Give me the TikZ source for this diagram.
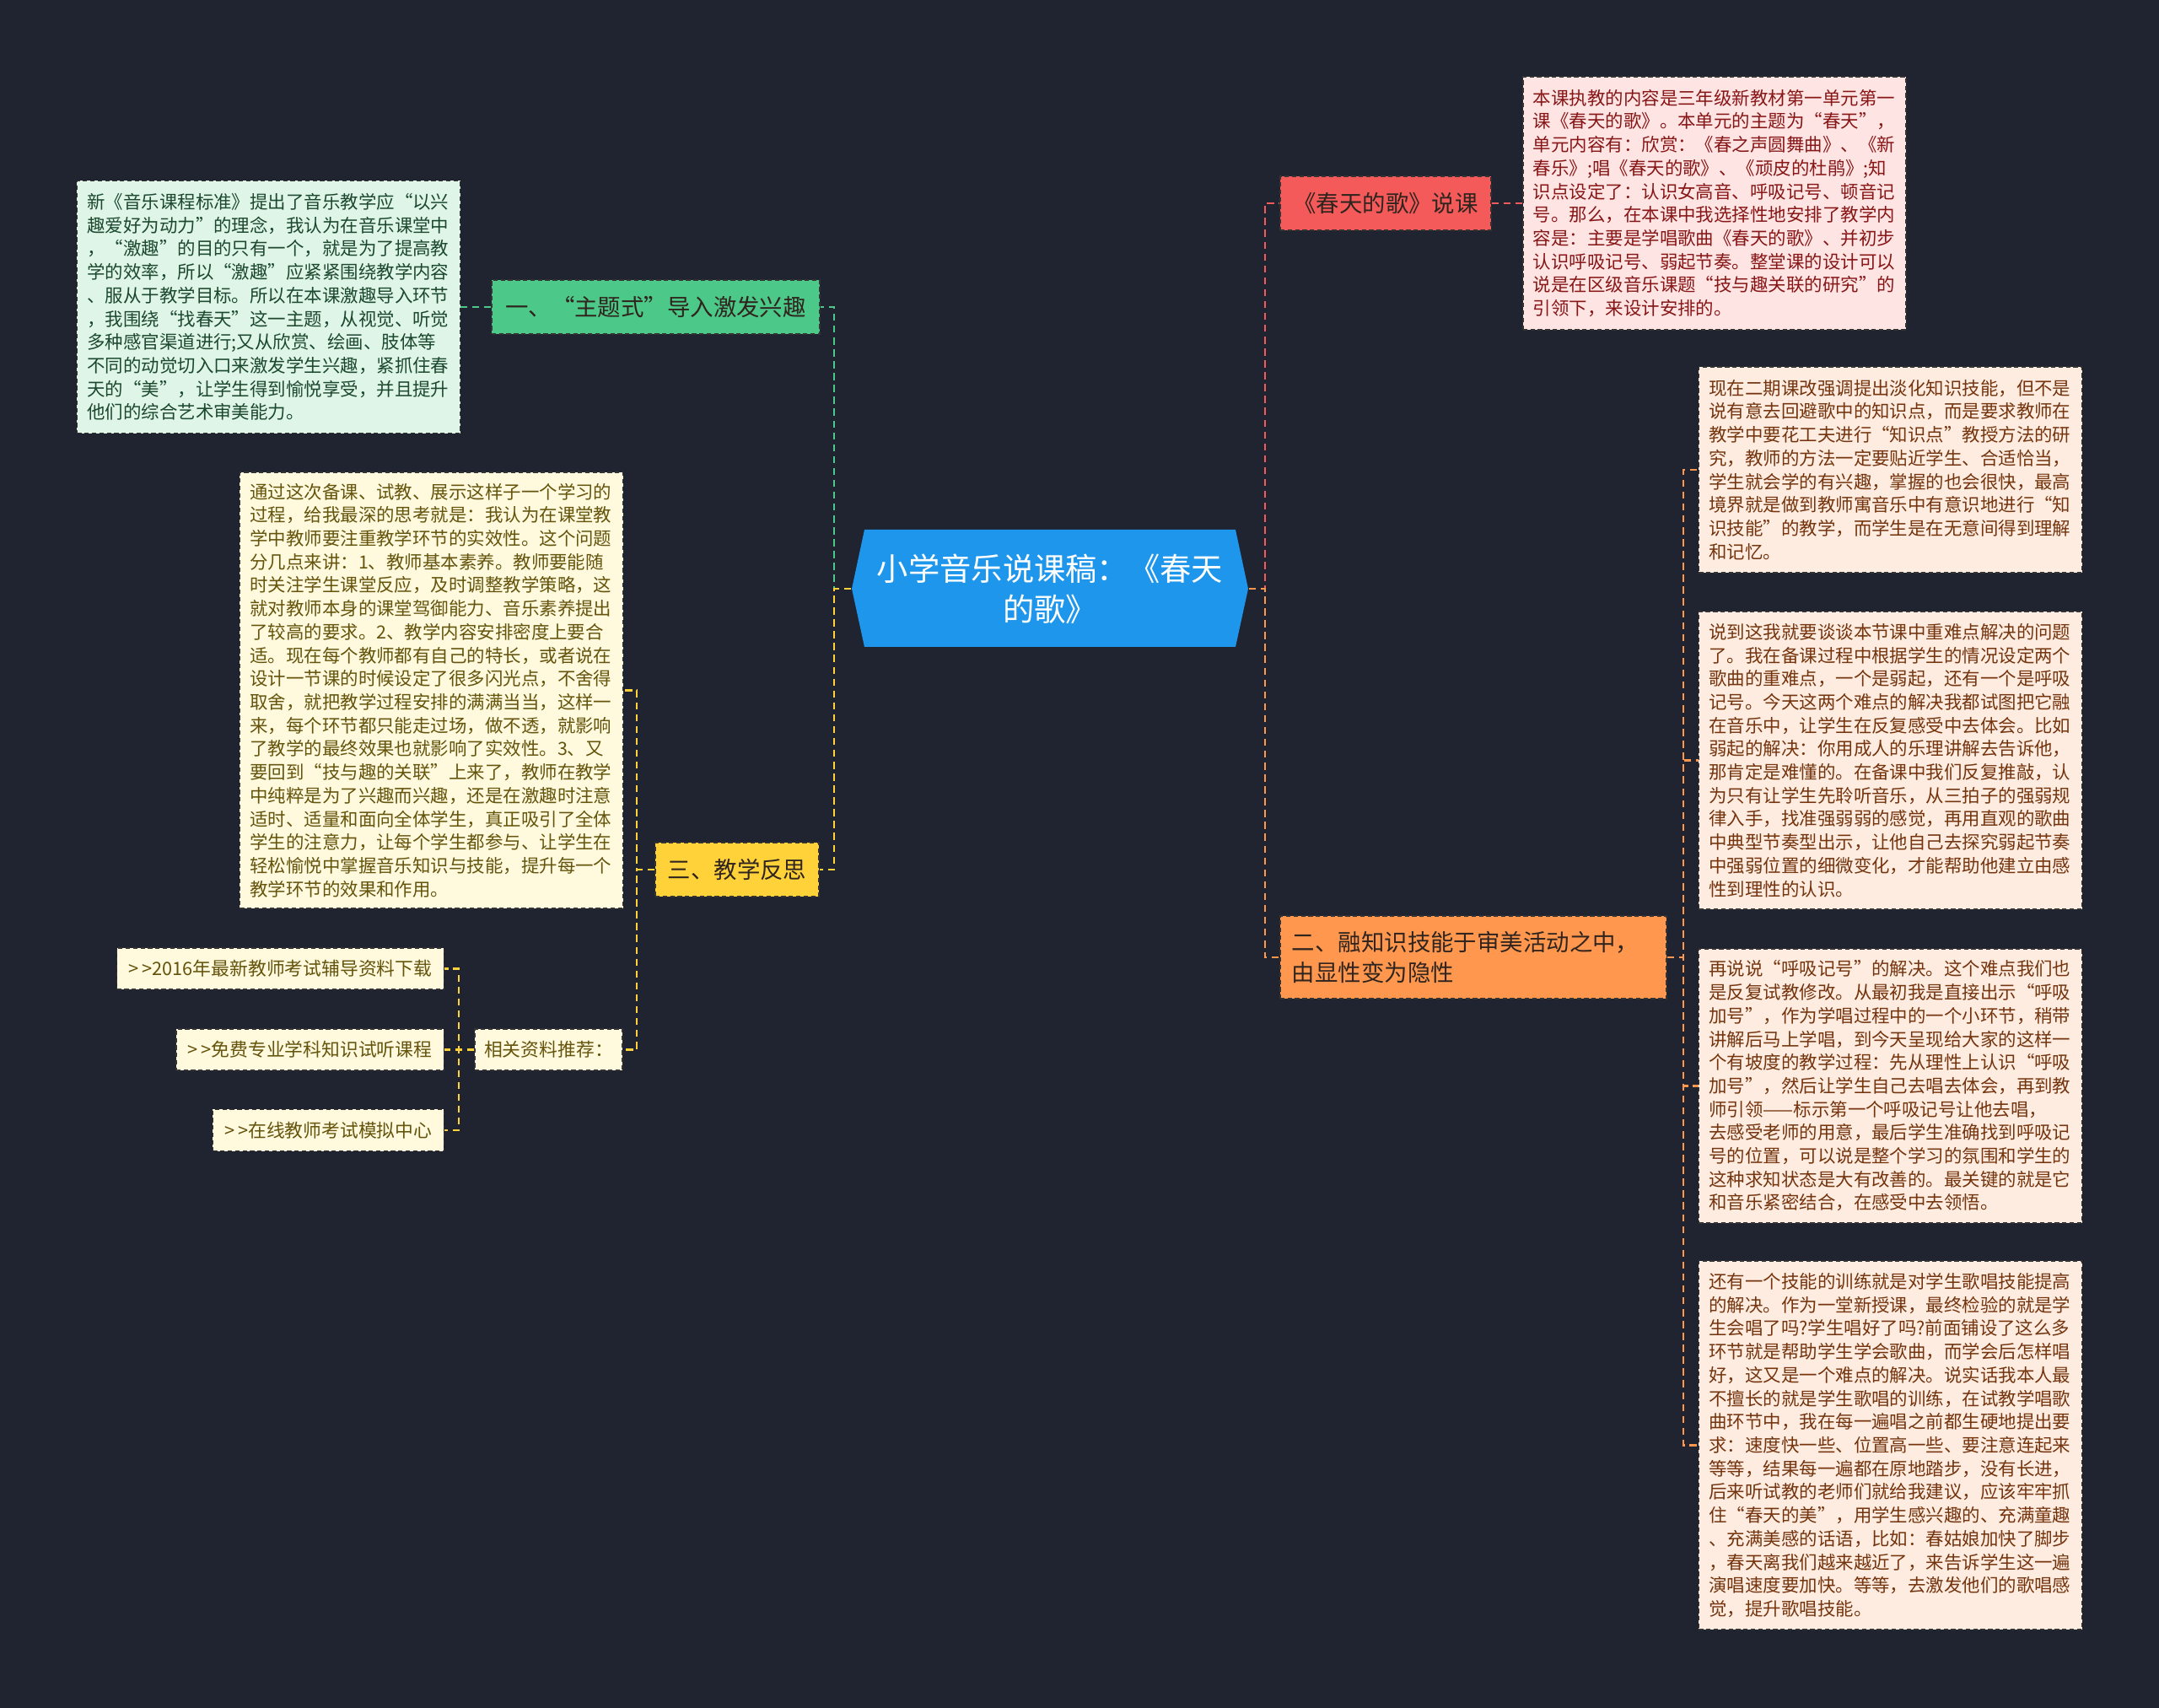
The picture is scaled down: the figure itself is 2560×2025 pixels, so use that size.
\documentclass[tikz,border=0pt]{standalone}
\usepackage{fontspec}
\setmainfont{Noto Sans CJK SC}

\definecolor{bgdark}{RGB}{32,35,48}
\definecolor{rootblue}{RGB}{30,150,235}
\definecolor{topicred}{RGB}{244,90,90}
\definecolor{topicorange}{RGB}{255,152,78}
\definecolor{topicgreen}{RGB}{76,200,136}
\definecolor{topicyellow}{RGB}{255,210,58}
\definecolor{notepink}{RGB}{255,228,228}
\definecolor{notepeach}{RGB}{255,236,224}
\definecolor{notemint}{RGB}{222,245,232}
\definecolor{notecream}{RGB}{255,249,222}
\definecolor{textpink}{RGB}{135,22,22}
\definecolor{textpeach}{RGB}{115,52,14}
\definecolor{textmint}{RGB}{28,72,46}
\definecolor{textcream}{RGB}{100,84,12}
\definecolor{texttopic}{RGB}{48,36,30}

\newcommand\notesize{\fontsize{6.1pt}{7.88pt}\selectfont}
\newcommand\topicsize{\fontsize{7.8pt}{10.2pt}\selectfont}
\newcommand\linksize{\fontsize{6.2pt}{7.5pt}\selectfont}
\newcommand\rootsize{\fontsize{10.6pt}{13.7pt}\selectfont}

\begin{document}
\begin{tikzpicture}[x=0.01cm,y=-0.01cm,
    card/.style={draw=black!80,line width=0.4pt,dash pattern=on 1.5pt off 1pt,inner sep=0pt},
    notebox/.style={card,align=left,text width=4.3cm,minimum width=4.54cm,font=\notesize},
    topic/.style={card,font=\topicsize,text=texttopic,minimum height=0.64cm},
    linkbox/.style={card,fill=notecream,text=textcream,font=\linksize,minimum height=0.49cm,inner xsep=0.14cm,anchor=east},
    conn/.style={line width=0.6pt,dash pattern=on 2.4pt off 1.6pt}]
    \fill[bgdark] (0,0) rectangle (2560,2025);
    \useasboundingbox (0,0) rectangle (2560,2025);

    % centre
    \fill[rootblue] (1010,698) -- (1025,628) -- (1465,628) -- (1480,698) -- (1465,767) -- (1025,767) -- cycle;
    \node[font=\rootsize,text=white,align=center,minimum width=4.7cm,minimum height=1.39cm,inner sep=0pt] (root) at (1245,698) {小学音乐说课稿：《春天\\的歌》};

    % right branches
    \node[topic,fill=topicred,minimum width=2.5cm] (b1) at (1643,241) {《春天的歌》说课};
    \node[topic,fill=topicorange,minimum width=4.58cm,minimum height=0.98cm,text width=4.3cm,align=left] (b2) at (1747,1135) {二、融知识技能于审美活动之中，\\由显性变为隐性};

    \node[notebox,fill=notepink,text=textpink,minimum height=3cm] (n1) at (2033,241) {本课执教的内容是三年级新教材第一单元第一\\课《春天的歌》。本单元的主题为“春天”，\\单元内容有：欣赏：《春之声圆舞曲》、《新\\春乐》;唱《春天的歌》、《顽皮的杜鹃》;知\\识点设定了：认识女高音、呼吸记号、顿音记\\号。那么，在本课中我选择性地安排了教学内\\容是：主要是学唱歌曲《春天的歌》、并初步\\认识呼吸记号、弱起节奏。整堂课的设计可以\\说是在区级音乐课题“技与趣关联的研究”的\\引领下，来设计安排的。};

    \node[notebox,fill=notepeach,text=textpeach,minimum height=2.44cm] (r1) at (2241.5,557) {现在二期课改强调提出淡化知识技能，但不是\\说有意去回避歌中的知识点，而是要求教师在\\教学中要花工夫进行“知识点”教授方法的研\\究，教师的方法一定要贴近学生、合适恰当，\\学生就会学的有兴趣，掌握的也会很快，最高\\境界就是做到教师寓音乐中有意识地进行“知\\识技能”的教学，而学生是在无意间得到理解\\和记忆。};
    \node[notebox,fill=notepeach,text=textpeach,minimum height=3.53cm] (r2) at (2241.5,901.5) {说到这我就要谈谈本节课中重难点解决的问题\\了。我在备课过程中根据学生的情况设定两个\\歌曲的重难点，一个是弱起，还有一个是呼吸\\记号。今天这两个难点的解决我都试图把它融\\在音乐中，让学生在反复感受中去体会。比如\\弱起的解决：你用成人的乐理讲解去告诉他，\\那肯定是难懂的。在备课中我们反复推敲，认\\为只有让学生先聆听音乐，从三拍子的强弱规\\律入手，找准强弱弱的感觉，再用直观的歌曲\\中典型节奏型出示，让他自己去探究弱起节奏\\中强弱位置的细微变化，才能帮助他建立由感\\性到理性的认识。};
    \node[notebox,fill=notepeach,text=textpeach,minimum height=3.25cm] (r3) at (2241.5,1287.5) {再说说“呼吸记号”的解决。这个难点我们也\\是反复试教修改。从最初我是直接出示“呼吸\\加号”，作为学唱过程中的一个小环节，稍带\\讲解后马上学唱，到今天呈现给大家的这样一\\个有坡度的教学过程：先从理性上认识“呼吸\\加号”，然后让学生自己去唱去体会，再到教\\师引领——标示第一个呼吸记号让他去唱，\\去感受老师的用意，最后学生准确找到呼吸记\\号的位置，可以说是整个学习的氛围和学生的\\这种求知状态是大有改善的。最关键的就是它\\和音乐紧密结合，在感受中去领悟。};
    \node[notebox,fill=notepeach,text=textpeach,minimum height=4.37cm] (r4) at (2241.5,1713.5) {还有一个技能的训练就是对学生歌唱技能提高\\的解决。作为一堂新授课，最终检验的就是学\\生会唱了吗?学生唱好了吗?前面铺设了这么多\\环节就是帮助学生学会歌曲，而学会后怎样唱\\好，这又是一个难点的解决。说实话我本人最\\不擅长的就是学生歌唱的训练，在试教学唱歌\\曲环节中，我在每一遍唱之前都生硬地提出要\\求：速度快一些、位置高一些、要注意连起来\\等等，结果每一遍都在原地踏步，没有长进，\\后来听试教的老师们就给我建议，应该牢牢抓\\住“春天的美”，用学生感兴趣的、充满童趣\\、充满美感的话语，比如：春姑娘加快了脚步\\，春天离我们越来越近了，来告诉学生这一遍\\演唱速度要加快。等等，去激发他们的歌唱感\\觉，提升歌唱技能。};

    % left branches
    \node[topic,fill=topicgreen,minimum width=3.89cm] (b3) at (777.5,364) {一、“主题式”导入激发兴趣};
    \node[topic,fill=topicyellow,minimum width=1.94cm] (b4) at (874,1031) {三、教学反思};

    \node[notebox,fill=notemint,text=textmint,minimum height=2.99cm] (g1) at (318.5,364) {新《音乐课程标准》提出了音乐教学应“以兴\\趣爱好为动力”的理念，我认为在音乐课堂中\\，“激趣”的目的只有一个，就是为了提高教\\学的效率，所以“激趣”应紧紧围绕教学内容\\、服从于教学目标。所以在本课激趣导入环节\\，我围绕“找春天”这一主题，从视觉、听觉\\多种感官渠道进行;又从欣赏、绘画、肢体等\\不同的动觉切入口来激发学生兴趣，紧抓住春\\天的“美”，让学生得到愉悦享受，并且提升\\他们的综合艺术审美能力。};
    \node[notebox,fill=notecream,text=textcream,minimum height=5.17cm] (y1) at (511.5,818.5) {通过这次备课、试教、展示这样子一个学习的\\过程，给我最深的思考就是：我认为在课堂教\\学中教师要注重教学环节的实效性。这个问题\\分几点来讲：1、教师基本素养。教师要能随\\时关注学生课堂反应，及时调整教学策略，这\\就对教师本身的课堂驾御能力、音乐素养提出\\了较高的要求。2、教学内容安排密度上要合\\适。现在每个教师都有自己的特长，或者说在\\设计一节课的时候设定了很多闪光点，不舍得\\取舍，就把教学过程安排的满满当当，这样一\\来，每个环节都只能走过场，做不透，就影响\\了教学的最终效果也就影响了实效性。3、又\\要回到“技与趣的关联”上来了，教师在教学\\中纯粹是为了兴趣而兴趣，还是在激趣时注意\\适时、适量和面向全体学生，真正吸引了全体\\学生的注意力，让每个学生都参与、让学生在\\轻松愉悦中掌握音乐知识与技能，提升每一个\\教学环节的效果和作用。};

    \node[card,fill=notecream,text=textcream,font=\linksize,minimum width=1.75cm,minimum height=0.49cm] (hub) at (650.5,1244.5) {相关资料推荐：};
    \node[linkbox] (l1) at (527,1148.5) {{>}\,{>}2016年最新教师考试辅导资料下载};
    \node[linkbox] (l2) at (527,1244.5) {{>}\,{>}免费专业学科知识试听课程};
    \node[linkbox] (l3) at (527,1340) {{>}\,{>}在线教师考试模拟中心};

    % connectors
    \draw[conn,topicred] (root.east) -- ++(19,0) |- (b1.west);
    \draw[conn,topicorange] (root.east) -- ++(19,0) |- (b2.west);
    \draw[conn,topicred] (b1.east) -- (n1.west);
    \foreach \r in {r1,r2,r3,r4}
        \draw[conn,topicorange] (b2.east) -- ++(19,0) |- (\r.west);

    \draw[conn,topicgreen] (root.west) -- ++(-20,0) |- (b3.east);
    \draw[conn,topicyellow] (root.west) -- ++(-20,0) |- (b4.east);
    \draw[conn,topicgreen] (b3.west) -- (g1.east);
    \draw[conn,topicyellow] (b4.west) -- ++(-21,0) |- (y1.east);
    \draw[conn,topicyellow] (b4.west) -- ++(-21,0) |- (hub.east);
    \foreach \l in {l1,l2,l3}
        \draw[conn,topicyellow] (hub.west) -- ++(-18,0) |- (\l.east);
\end{tikzpicture}
\end{document}
